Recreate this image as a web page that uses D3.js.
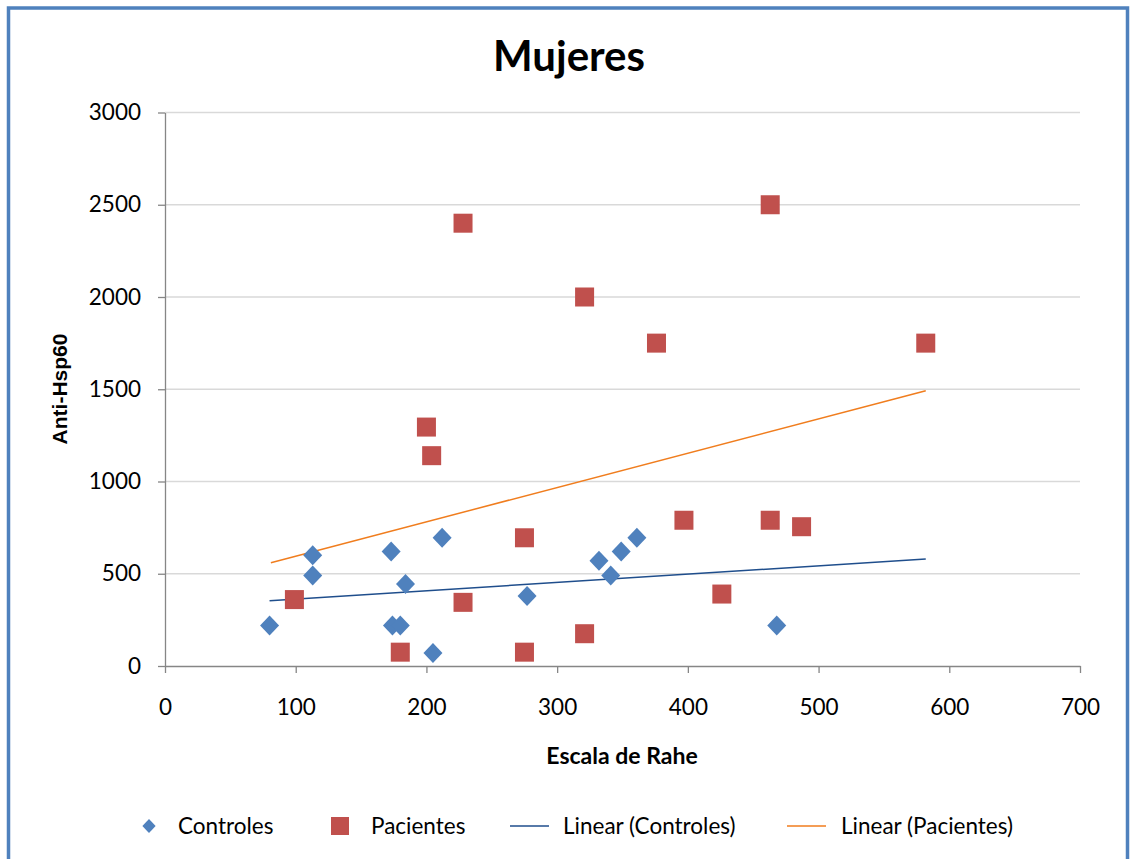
<!DOCTYPE html>
<html>
<head>
<meta charset="utf-8">
<script src="https://cdn.jsdelivr.net/npm/d3@7"></script>
<style>
  body { margin: 0; background: #fff; }
  svg text { font-family: Lato, "Open Sans", sans-serif; }
</style>
</head>
<body>
<div id="chart"></div>
<script>
// values
var controlesX = [80, 113, 113, 173, 184, 174, 180, 205, 212, 277, 332, 341, 349, 361, 468];
var controlesY = [220, 600, 490, 620, 445, 220, 220, 70, 695, 380, 570, 490, 620, 695, 220];

var pacientesX = [99, 200, 204, 228, 228, 180, 275, 275, 321, 321, 376, 397, 463, 487, 426, 463, 582];
var pacientesY = [360, 1295, 1140, 2400, 345, 75, 695, 75, 2000, 175, 1750, 790, 790, 755, 390, 2500, 1750];

// trendline end points as Excel drew them
var trendControles = [[80, 354], [582, 580]];
var trendPacientes = [[81, 560], [582, 1492]];

var xTicks = [0, 100, 200, 300, 400, 500, 600, 700];
var yTicks = [0, 500, 1000, 1500, 2000, 2500, 3000];

var W = 1131, H = 859;
var plotLeft = 165, plotRight = 1080, plotTop = 112.5, plotBottom = 666;

var svg = d3.select("#chart").append("svg")
  .attr("width", W)
  .attr("height", H);

// chart frame
svg.append("rect")
  .attr("x", 8.5).attr("y", 8)
  .attr("width", 1119).attr("height", 880)
  .attr("fill", "#fff")
  .attr("stroke", "#4f81bd")
  .attr("stroke-width", 3.5);

var x = d3.scaleLinear().domain([0, 700]).range([plotLeft, plotRight]);
var y = d3.scaleLinear().domain([0, 3000]).range([plotBottom, plotTop]);

// gridlines
svg.append("g")
  .selectAll("line")
  .data(yTicks.filter(function(d) { return d > 0; }))
  .enter()
  .append("line")
  .attr("x1", plotLeft).attr("x2", plotRight)
  .attr("y1", function(d) { return y(d); })
  .attr("y2", function(d) { return y(d); })
  .attr("stroke", "#d9d9d9")
  .attr("stroke-width", 1.3);

// axes
var xAxis = svg.append("g")
  .attr("transform", "translate(0," + plotBottom + ")")
  .call(d3.axisBottom(x).tickValues(xTicks).tickFormat(d3.format("d")).tickSize(7).tickSizeOuter(0).tickPadding(26));
var yAxis = svg.append("g")
  .attr("transform", "translate(" + plotLeft + ",0)")
  .call(d3.axisLeft(y).tickValues(yTicks).tickFormat(d3.format("d")).tickSize(7).tickSizeOuter(0).tickPadding(17));

[xAxis, yAxis].forEach(function(a) {
  a.select(".domain").attr("stroke", "#868686").attr("stroke-width", 1.3);
  a.selectAll(".tick line").attr("stroke", "#868686").attr("stroke-width", 1.3);
  a.selectAll(".tick text")
    .attr("fill", "#000")
    .style("font-size", "22.5px")
    .style("font-family", "Lato, sans-serif");
});

// trendlines
var line = d3.line()
  .x(function(d) { return x(d[0]); })
  .y(function(d) { return y(d[1]); });

svg.append("path")
  .datum(trendControles)
  .attr("d", line)
  .attr("fill", "none")
  .attr("stroke", "#1f4e8c")
  .attr("stroke-width", 1.5);

svg.append("path")
  .datum(trendPacientes)
  .attr("d", line)
  .attr("fill", "none")
  .attr("stroke", "#f07d1e")
  .attr("stroke-width", 1.5);

// pacientes squares
var pacientes = pacientesX.map(function(v, i) { return { x: v, y: pacientesY[i] }; });
svg.append("g")
  .selectAll("rect")
  .data(pacientes)
  .enter()
  .append("rect")
  .attr("x", function(d) { return x(d.x) - 9.5; })
  .attr("y", function(d) { return y(d.y) - 9.5; })
  .attr("width", 19).attr("height", 19)
  .attr("fill", "#c0504d");

// controles diamonds
var controles = controlesX.map(function(v, i) { return { x: v, y: controlesY[i] }; });
var diamond = "M0,-10L9.5,0L0,10L-9.5,0Z";
svg.append("g")
  .selectAll("path")
  .data(controles)
  .enter()
  .append("path")
  .attr("d", diamond)
  .attr("transform", function(d) { return "translate(" + x(d.x) + "," + y(d.y) + ")"; })
  .attr("fill", "#4f81bd");

// titles
svg.append("text")
  .attr("x", 569).attr("y", 71)
  .attr("text-anchor", "middle")
  .style("font-size", "42px")
  .style("font-weight", "bold")
  .text("Mujeres");

svg.append("text")
  .attr("x", 622).attr("y", 764)
  .attr("text-anchor", "middle")
  .style("font-size", "23px")
  .style("font-weight", "bold")
  .text("Escala de Rahe");

svg.append("text")
  .attr("transform", "translate(67,389) rotate(-90)")
  .attr("text-anchor", "middle")
  .style("font-size", "21px")
  .style("font-weight", "bold")
  .style("font-family", "'Liberation Sans', Arial, sans-serif")
  .text("Anti-Hsp60");

// legend
var legend = svg.append("g").attr("transform", "translate(0,826)");
legend.append("path").attr("d", diamond).attr("transform", "translate(149,0) scale(0.7)").attr("fill", "#4f81bd");
legend.append("rect").attr("x", 331).attr("y", -9).attr("width", 18).attr("height", 18).attr("fill", "#c0504d");
legend.append("line").attr("x1", 510).attr("x2", 549).attr("y1", 0).attr("y2", 0).attr("stroke", "#1f4e8c").attr("stroke-width", 1.5);
legend.append("line").attr("x1", 787).attr("x2", 826).attr("y1", 0).attr("y2", 0).attr("stroke", "#f07d1e").attr("stroke-width", 1.5);

var legendItems = [
  { label: "Controles", x: 178 },
  { label: "Pacientes", x: 371 },
  { label: "Linear (Controles)", x: 563 },
  { label: "Linear (Pacientes)", x: 841 }
];
legend.selectAll("text.lbl")
  .data(legendItems)
  .enter()
  .append("text")
  .attr("class", "lbl")
  .attr("x", function(d) { return d.x; })
  .attr("y", 8)
  .style("font-size", "22.5px")
  .text(function(d) { return d.label; });
</script>
</body>
</html>
